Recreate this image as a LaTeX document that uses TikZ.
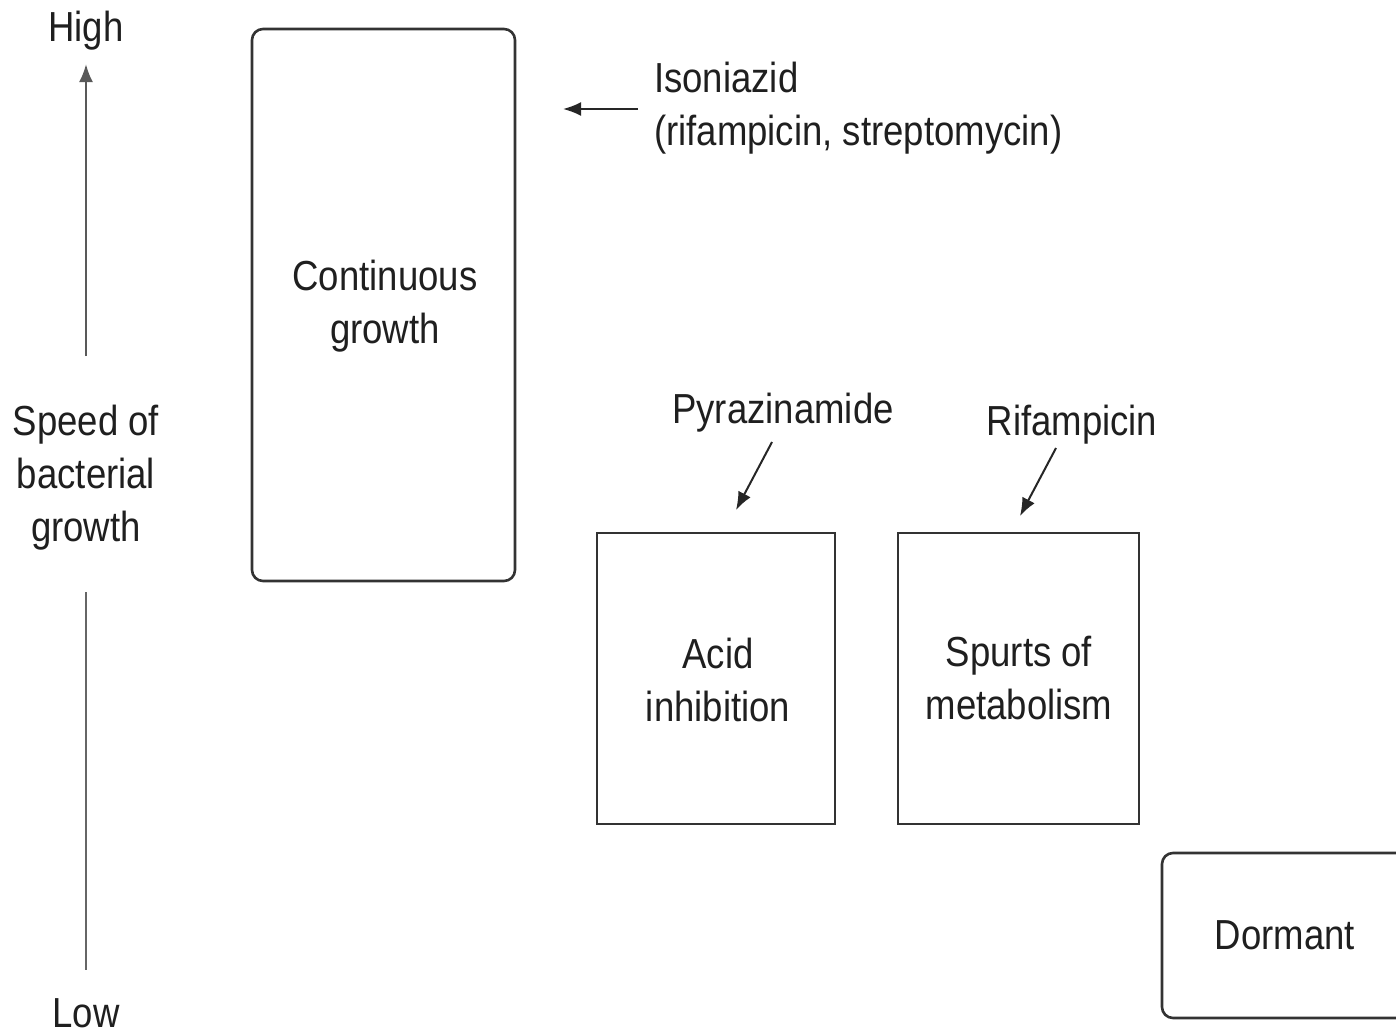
\documentclass[tikz,border=0pt]{standalone}
\usepackage{fontspec}
\setmainfont{Liberation Sans}[FakeStretch=0.87]
\usetikzlibrary{arrows.meta}
\begin{document}
\begin{tikzpicture}[x=1pt,y=-1pt,
  every node/.style={text=black!88, font=\fontsize{42}{53}\selectfont, align=center, inner sep=0pt},
  boxsq/.style={draw=black!80, line width=2.6pt},
  boxrd/.style={draw=black!80, line width=2.6pt, rounded corners=11pt},
  arr/.style={draw=black!85, line width=2pt, -{Latex[length=18pt,width=14pt]}},
  axisline/.style={draw=black!60, line width=2.4pt}]
\useasboundingbox (0,0) rectangle (1396,1033);
\clip (0,0) rectangle (1396,1033);
% axis
\node (high) at (86,31) {High};
\node (speed) at (86,478) {Speed of\\bacterial\\growth};
\node (low) at (86,1013) {Low};
\coordinate (axtop) at (86,64);
\coordinate (axmidtop) at (86,356);
\coordinate (axmidbot) at (86,592);
\coordinate (axbot) at (86,970);
\draw[axisline, -{Latex[length=18pt,width=14pt]}, draw=black!65] (axmidtop) -- (axtop);
\draw[axisline] (axmidbot) -- (axbot);
% boxes
\draw[boxrd] (252,29) rectangle (515,581);
\node (cont) at (385,306.5) {Continuous\\growth};
\draw[boxsq] (597,533) rectangle (835,824);
\node (acid) at (718,679.5) {Acid\\inhibition};
\draw[boxsq] (898,533) rectangle (1139,824);
\node (spurts) at (1019,677.5) {Spurts of\\metabolism};
\draw[boxrd] (1162,853) rectangle (1420,1018);
\node (dorm) at (1285,935) {Dormant};
% drug labels
\node[anchor=west, align=left] (iso) at (654,108) {Isoniazid\\(rifampicin, streptomycin)};
\coordinate (isoA) at (638,109);
\coordinate (isoB) at (563,109);
\draw[arr] (isoA) -- (isoB);
\node (pyr) at (783,413) {Pyrazinamide};
\coordinate (pyrA) at (772,442);
\coordinate (pyrB) at (736,510);
\draw[arr] (pyrA) -- (pyrB);
\node (rif) at (1072,425) {Rifampicin};
\coordinate (rifA) at (1056,448);
\coordinate (rifB) at (1020,516);
\draw[arr] (rifA) -- (rifB);
\end{tikzpicture}
\end{document}
